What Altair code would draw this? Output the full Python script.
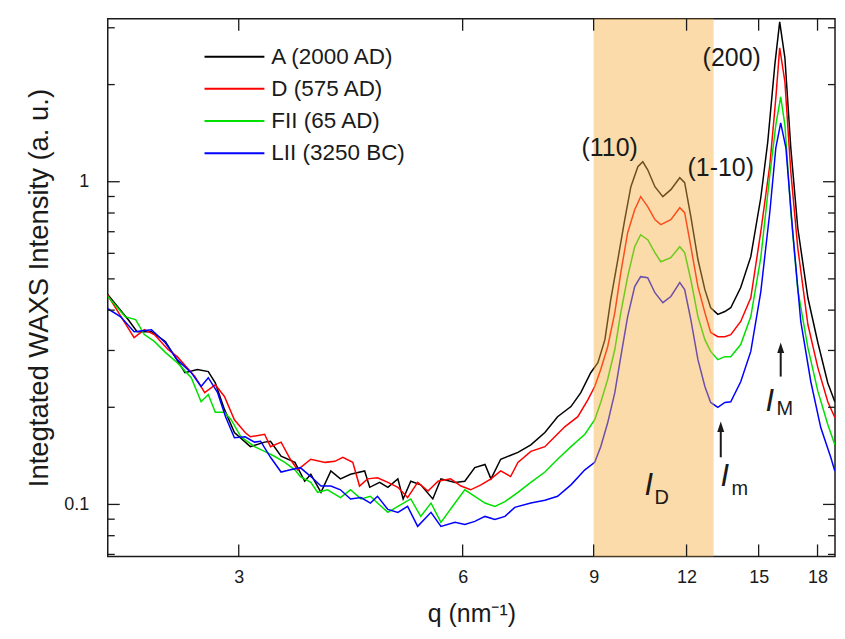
import altair as alt
import pandas as pd

# ---------------- data ----------------
SERIES = ["A (2000 AD)", "D (575 AD)", "FII (65 AD)", "LII (3250 BC)"]
COLORS = ["#000000", "#ff0000", "#00e000", "#0000ff"]

qA = [1.99, 2.13, 2.19, 2.29, 2.39, 2.54, 2.64, 2.73, 2.79, 2.87, 2.96, 3.11, 3.25, 3.31, 3.42,
      3.57, 3.68, 3.75, 3.87, 3.99, 4.11, 4.24, 4.43, 4.50, 4.64, 4.76, 4.91, 4.99, 5.11, 5.27,
      5.47, 5.61, 5.86, 6.04, 6.23, 6.43, 6.55, 6.75, 7.12, 7.41, 7.74, 8.05, 8.39, 8.65, 8.92,
      9.12, 9.32, 9.49, 9.70, 9.91, 10.10, 10.32, 10.48, 10.64, 10.88, 11.15, 11.43, 11.75, 11.93,
      12.16, 12.43, 12.70, 12.93, 13.22, 13.51, 13.76, 14.19, 14.64, 15.10, 15.43, 15.77, 16.01,
      16.27, 16.57, 16.93, 17.47, 18.02, 18.58, 18.99]
IA = [0.453, 0.374, 0.343, 0.343, 0.320, 0.256, 0.262, 0.258, 0.238, 0.197, 0.167, 0.151, 0.156,
      0.157, 0.141, 0.135, 0.118, 0.124, 0.109, 0.127, 0.120, 0.124, 0.127, 0.113, 0.117, 0.113,
      0.120, 0.104, 0.118, 0.115, 0.104, 0.120, 0.117, 0.118, 0.130, 0.133, 0.120, 0.138, 0.145,
      0.153, 0.167, 0.187, 0.201, 0.222, 0.256, 0.275, 0.324, 0.431, 0.574, 0.763, 0.965, 1.113,
      1.153, 1.089, 0.965, 0.899, 0.945, 1.029, 0.993, 0.779, 0.574, 0.463, 0.407, 0.388, 0.396,
      0.407, 0.470, 0.586, 0.892, 1.330, 2.303, 3.129, 2.421, 1.274, 0.720, 0.437, 0.317, 0.238,
      0.208]

qD = [1.99, 2.17, 2.24, 2.31, 2.41, 2.48, 2.62, 2.70, 2.79, 2.87, 2.96, 3.06, 3.11, 3.25, 3.31,
      3.42, 3.52, 3.60, 3.75, 3.92, 4.04, 4.14, 4.27, 4.36, 4.47, 4.61, 4.76, 4.91, 5.06, 5.22,
      5.39, 5.56, 5.78, 5.97, 6.15, 6.35, 6.55, 6.75, 6.96, 7.12, 7.41, 7.74, 7.98, 8.23, 8.57,
      8.84, 9.03, 9.20, 9.40, 9.61, 9.79, 10.00, 10.22, 10.41, 10.64, 10.88, 11.08, 11.43, 11.75,
      11.93, 12.16, 12.43, 12.70, 12.93, 13.22, 13.51, 13.76, 14.19, 14.64, 15.10, 15.53, 15.82,
      16.01, 16.27, 16.57, 16.93, 17.47, 18.02, 18.58, 18.99]
ID = [0.453, 0.329, 0.348, 0.336, 0.302, 0.287, 0.249, 0.222, 0.235, 0.216, 0.183, 0.167, 0.162,
      0.165, 0.151, 0.156, 0.138, 0.128, 0.138, 0.135, 0.136, 0.140, 0.135, 0.114, 0.120, 0.121,
      0.117, 0.113, 0.105, 0.117, 0.110, 0.118, 0.120, 0.114, 0.111, 0.115, 0.120, 0.127, 0.122,
      0.135, 0.146, 0.151, 0.162, 0.174, 0.187, 0.211, 0.232, 0.262, 0.308, 0.393, 0.523, 0.695,
      0.819, 0.899, 0.837, 0.763, 0.736, 0.763, 0.831, 0.802, 0.629, 0.473, 0.393, 0.341, 0.331,
      0.331, 0.336, 0.369, 0.437, 0.700, 1.129, 1.820, 2.599, 2.040, 1.074, 0.625, 0.361, 0.265,
      0.208, 0.186]

qF = [1.99, 2.11, 2.18, 2.24, 2.31, 2.39, 2.48, 2.59, 2.67, 2.73, 2.79, 2.87, 2.93, 3.02, 3.15,
      3.25, 3.35, 3.46, 3.57, 3.63, 3.75, 3.83, 3.95, 4.11, 4.24, 4.38, 4.51, 4.61, 4.76, 4.91,
      5.11, 5.27, 5.44, 5.61, 5.86, 6.04, 6.23, 6.43, 6.63, 6.84, 7.12, 7.41, 7.74, 8.05, 8.39,
      8.76, 9.03, 9.20, 9.40, 9.61, 9.79, 10.00, 10.22, 10.41, 10.64, 10.88, 11.08, 11.43, 11.75,
      11.93, 12.16, 12.43, 12.70, 12.93, 13.22, 13.51, 13.76, 14.19, 14.64, 15.10, 15.53, 15.82,
      16.06, 16.27, 16.57, 16.93, 17.47, 18.02, 18.58, 18.99]
IF = [0.447, 0.382, 0.374, 0.336, 0.320, 0.296, 0.275, 0.247, 0.208, 0.219, 0.193, 0.193, 0.183,
      0.162, 0.151, 0.146, 0.141, 0.135, 0.128, 0.122, 0.117, 0.109, 0.111, 0.105, 0.111, 0.104,
      0.106, 0.101, 0.0945, 0.0986, 0.104, 0.0918, 0.101, 0.088, 0.101, 0.111, 0.106, 0.101,
      0.0986, 0.102, 0.109, 0.117, 0.126, 0.138, 0.151, 0.165, 0.183, 0.207, 0.244, 0.302, 0.393,
      0.508, 0.629, 0.685, 0.661, 0.603, 0.565, 0.582, 0.629, 0.603, 0.497, 0.382, 0.324, 0.298,
      0.281, 0.287, 0.287, 0.313, 0.382, 0.582, 1.051, 1.501, 1.833, 1.501, 0.807, 0.463, 0.306,
      0.224, 0.177, 0.153]

qL = [1.99, 2.08, 2.17, 2.29, 2.39, 2.48, 2.59, 2.67, 2.73, 2.81, 2.88, 2.96, 3.06, 3.15, 3.21,
      3.31, 3.42, 3.52, 3.63, 3.75, 3.87, 3.99, 4.11, 4.24, 4.38, 4.51, 4.61, 4.76, 4.91, 5.06,
      5.22, 5.44, 5.61, 5.86, 6.04, 6.23, 6.43, 6.63, 6.84, 7.05, 7.41, 7.74, 8.05, 8.39, 8.76,
      9.03, 9.20, 9.40, 9.61, 9.79, 10.00, 10.22, 10.41, 10.64, 10.88, 11.15, 11.43, 11.75, 11.93,
      12.16, 12.43, 12.70, 12.93, 13.22, 13.51, 13.76, 14.19, 14.64, 15.10, 15.53, 15.82, 16.06,
      16.32, 16.67, 17.09, 17.63, 18.18, 18.75, 18.99]
IL = [0.407, 0.382, 0.343, 0.348, 0.317, 0.281, 0.256, 0.232, 0.247, 0.222, 0.187, 0.161, 0.162,
      0.156, 0.157, 0.140, 0.126, 0.128, 0.130, 0.122, 0.114, 0.114, 0.111, 0.104, 0.105, 0.101,
      0.106, 0.0965, 0.0945, 0.0986, 0.0855, 0.0945, 0.0855, 0.088, 0.0867, 0.0886, 0.0918,
      0.0899, 0.0918, 0.0979, 0.101, 0.103, 0.106, 0.115, 0.128, 0.135, 0.151, 0.179, 0.222,
      0.287, 0.382, 0.473, 0.508, 0.504, 0.453, 0.422, 0.441, 0.487, 0.463, 0.374, 0.281, 0.232,
      0.207, 0.200, 0.207, 0.208, 0.240, 0.298, 0.456, 0.807, 1.274, 1.523, 1.274, 0.700, 0.369,
      0.240, 0.173, 0.140, 0.127]

X_TICKS = [3, 6, 9, 12, 15, 18]
Y_LABELS = [0.1, 1]
Y_MINOR = [0.07, 0.08, 0.09, 0.2, 0.3, 0.4, 0.5, 0.6, 0.7, 0.8, 0.9, 2, 3]
SHADE = [9.0, 13.05]

PEAK_TEXT = ["(110)", "(1-10)", "(200)"]
PEAK_Q = [9.46, 13.34, 13.80]
PEAK_I = [1.274, 1.105, 2.421]

MAIN_TEXT = ["I", "I", "I"]
MAIN_Q = [10.68, 13.51, 15.53]
MAIN_I = [0.1137, 0.1212, 0.207]
SUB_TEXT = ["D", "m", "M"]
SUB_Q = [11.11, 14.15, 16.27]
SUB_I = [0.1044, 0.1113, 0.197]

ARROW_Q = [13.34, 16.06]
ARROW_TAIL = [0.140, 0.249]
ARROW_HEAD = [0.1719, 0.302]

# ---------------- build ----------------
W, H = 729, 539
FONT = "Liberation Sans"
INK = "#1a1a1a"

rows = []
for s, qs, vs in zip(SERIES, [qA, qD, qF, qL], [IA, ID, IF, IL]):
    for k, (a, b) in enumerate(zip(qs, vs)):
        rows.append({"series": s, "q": a, "I": b, "k": k})
df = pd.DataFrame(rows)

xs = alt.Scale(type="log", domain=[2, 19], nice=False)
ys = alt.Scale(type="log", domain=[0.069, 3.2], nice=False)

XAX = alt.Axis(
    values=X_TICKS, format="d", title="q (nm\u207b\u00b9)", ticks=False, domain=False,
    grid=False, labelFontSize=18, labelPadding=12, labelFont=FONT, labelColor=INK,
    labelFlush=False, labelOverlap=False,
    titleFont=FONT, titleFontSize=25, titleFontWeight="normal", titleColor=INK,
    titleX=W / 2, titleY=57, titleAlign="center", titleBaseline="middle")
YAX = alt.Axis(
    values=Y_LABELS, format="~g", title="Integtated WAXS Intensity (a. u.)", ticks=False,
    domain=False, grid=False, labelFontSize=18, labelPadding=19, labelFont=FONT,
    labelColor=INK, labelFlush=False, labelOverlap=False,
    titleFont=FONT, titleFontSize=27.5, titleFontWeight="normal", titleColor=INK,
    titleX=-68, titleY=H / 2, titleAngle=-90, titleAlign="center", titleBaseline="middle")


def X(field):
    return alt.X(field, scale=xs, axis=XAX)


def Y(field):
    return alt.Y(field, scale=ys, axis=YAX)


lines = alt.Chart(df).mark_line(strokeWidth=1.5, clip=True).encode(
    x=X("q:Q"), y=Y("I:Q"),
    color=alt.Color("series:N", scale=alt.Scale(domain=SERIES, range=COLORS), legend=None),
    order="k:Q",
)

shade = alt.Chart(pd.DataFrame({"a": [SHADE[0]], "b": [SHADE[1]]})).mark_rect(
    color="#F5B041", opacity=0.45).encode(
    x=X("a:Q"), x2="b:Q", y=alt.value(0), y2=alt.value(H))

peaks = alt.Chart(pd.DataFrame({"t": PEAK_TEXT, "q": PEAK_Q, "v": PEAK_I})).mark_text(
    font=FONT, fontSize=25, color=INK, align="center", baseline="middle").encode(
    x=X("q:Q"), y=Y("v:Q"), text="t:N")

mains = alt.Chart(pd.DataFrame({"t": MAIN_TEXT, "q": MAIN_Q, "v": MAIN_I})).mark_text(
    font=FONT, fontSize=31, fontStyle="italic", color=INK, align="center",
    baseline="middle").encode(x=X("q:Q"), y=Y("v:Q"), text="t:N")

subs = alt.Chart(pd.DataFrame({"t": SUB_TEXT, "q": SUB_Q, "v": SUB_I})).mark_text(
    font=FONT, fontSize=20, color=INK, align="center", baseline="middle").encode(
    x=X("q:Q"), y=Y("v:Q"), text="t:N")

adf = pd.DataFrame({"q": ARROW_Q, "tail": ARROW_TAIL, "head": ARROW_HEAD})
shafts = alt.Chart(adf).mark_rule(color=INK, strokeWidth=2).encode(
    x=X("q:Q"), y=Y("tail:Q"), y2="head:Q")
heads = alt.Chart(adf).mark_point(
    shape="M0,-1L0.5,0.5L-0.5,0.5Z", filled=True, size=196, color=INK, opacity=1).encode(
    x=X("q:Q"), y=Y("head:Q"))

ytdf_major = pd.DataFrame({"v": Y_LABELS})
ytdf_minor = pd.DataFrame({"v": Y_MINOR})
xtdf = pd.DataFrame({"v": X_TICKS})


def yticks(d, x0, x1):
    return alt.Chart(d).mark_rule(color=INK, strokeWidth=1.3).encode(
        y=Y("v:Q"), x=alt.value(x0), x2=alt.value(x1))


def xticks(d, y0, y1):
    return alt.Chart(d).mark_rule(color=INK, strokeWidth=1.3).encode(
        x=X("v:Q"), y=alt.value(y0), y2=alt.value(y1))


ticks = [
    yticks(ytdf_major, 0, 12), yticks(ytdf_minor, 0, 7),
    yticks(ytdf_major, W - 12, W), yticks(ytdf_minor, W - 7, W),
    xticks(xtdf, H - 12, H), xticks(xtdf, 0, 12),
]

legend_layers = []
for i, (s, c) in enumerate(zip(SERIES, COLORS)):
    yy = 38 + i * 32.3
    ldf = pd.DataFrame({"s": [s]})
    legend_layers.append(alt.Chart(ldf).mark_rule(color=c, strokeWidth=2).encode(
        x=alt.value(97), x2=alt.value(157), y=alt.value(yy)))
    legend_layers.append(alt.Chart(ldf).mark_text(
        font=FONT, fontSize=22.5, color=INK, align="left", baseline="middle").encode(
        x=alt.value(164), y=alt.value(yy), text="s:N"))

chart = alt.layer(
    lines, shade, peaks, mains, subs, shafts, heads, *ticks, *legend_layers
).properties(
    width=W, height=H,
    padding={"left": 100, "top": 10, "right": 2, "bottom": 74},
    autosize=alt.AutoSizeParams(type="none"),
    background="white",
).configure_view(stroke=INK, strokeWidth=1.5)

chart.save("out.html", embed_options={"renderer": "svg", "actions": False})
